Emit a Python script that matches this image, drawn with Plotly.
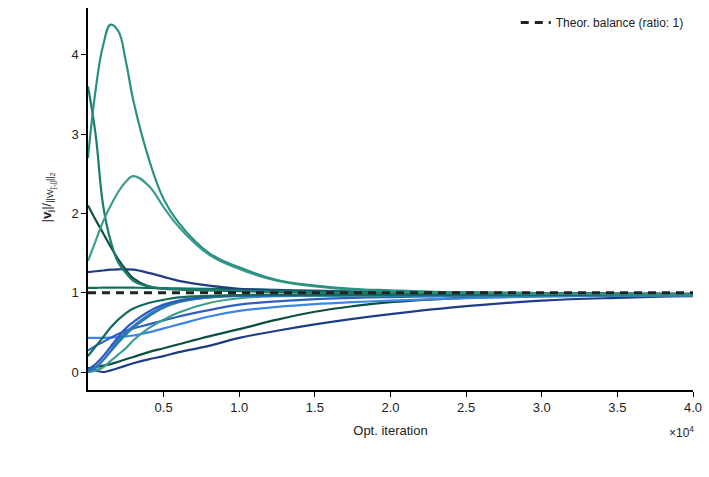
import plotly.graph_objects as go

# iterations (in units of 1e4 shown on axis)
iters = [0, 500, 1000, 1500, 2000, 2500, 3000, 4000, 5000, 6000, 8000, 10000,
         12500, 15000, 17500, 20000, 25000, 30000, 35000, 40000]

peak_big = [2.7, 3.55, 4.12, 4.38, 4.3, 3.92, 3.42, 2.7, 2.18, 1.88, 1.5, 1.32,
            1.16, 1.09, 1.05, 1.03, 1.0, 0.99, 0.985, 0.98]
peak_small = [1.4, 1.65, 1.9, 2.1, 2.27, 2.4, 2.47, 2.35, 2.08, 1.83, 1.48, 1.3,
              1.15, 1.08, 1.04, 1.02, 1.0, 0.99, 0.98, 0.975]
decay_high = [3.6, 3.0, 2.1, 1.65, 1.38, 1.25, 1.15, 1.08, 1.055, 1.045, 1.035, 1.025,
              1.015, 1.01, 1.0, 0.995, 0.99, 0.985, 0.98, 0.975]
decay_mid = [2.1, 1.92, 1.75, 1.58, 1.42, 1.29, 1.18, 1.08, 1.05, 1.04, 1.03, 1.02,
             1.01, 1.005, 1.0, 0.995, 0.99, 0.985, 0.98, 0.975]
hump_navy = [1.26, 1.27, 1.28, 1.29, 1.295, 1.295, 1.29, 1.25, 1.2, 1.15, 1.09, 1.05,
             1.03, 1.02, 1.01, 1.005, 1.0, 0.995, 0.99, 0.985]
flat_teal = [1.06, 1.062, 1.063, 1.064, 1.064, 1.064, 1.063, 1.06, 1.057, 1.054, 1.05, 1.045,
             1.035, 1.025, 1.018, 1.012, 1.0, 0.995, 0.99, 0.985]
light_blue = [0.43, 0.43, 0.43, 0.435, 0.44, 0.45, 0.46, 0.5, 0.55, 0.6, 0.7, 0.77,
              0.82, 0.855, 0.88, 0.9, 0.93, 0.95, 0.96, 0.965]
mid_blue = [0.27, 0.33, 0.38, 0.43, 0.48, 0.52, 0.55, 0.6, 0.65, 0.7, 0.78, 0.85,
            0.89, 0.92, 0.935, 0.945, 0.955, 0.965, 0.97, 0.975]
fast_dteal = [0.2, 0.32, 0.44, 0.56, 0.66, 0.74, 0.8, 0.87, 0.91, 0.94, 0.96, 0.97,
              0.975, 0.975, 0.975, 0.975, 0.975, 0.975, 0.975, 0.975]
fast_blue = [0.03, 0.1, 0.2, 0.32, 0.44, 0.55, 0.63, 0.76, 0.85, 0.9, 0.95, 0.965,
             0.97, 0.972, 0.974, 0.975, 0.975, 0.975, 0.975, 0.975]
fast_teal = [0.02, 0.06, 0.15, 0.26, 0.37, 0.47, 0.56, 0.7, 0.81, 0.88, 0.94, 0.96,
             0.965, 0.968, 0.97, 0.97, 0.97, 0.97, 0.97, 0.97]
fast_blue2 = [0.0, 0.05, 0.15, 0.27, 0.4, 0.5, 0.58, 0.72, 0.83, 0.89, 0.94, 0.96,
              0.965, 0.968, 0.97, 0.97, 0.97, 0.97, 0.97, 0.97]
lag_lteal = [0.0, 0.02, 0.06, 0.14, 0.22, 0.3, 0.4, 0.55, 0.66, 0.75, 0.87, 0.93,
             0.955, 0.96, 0.962, 0.965, 0.965, 0.965, 0.965, 0.965]
slow_dgreen = [0.05, 0.06, 0.08, 0.1, 0.13, 0.16, 0.19, 0.25, 0.3, 0.35, 0.45, 0.54,
               0.66, 0.76, 0.83, 0.88, 0.935, 0.96, 0.97, 0.975]
slow_navy = [0.05, 0.02, 0.0, 0.02, 0.05, 0.08, 0.11, 0.16, 0.2, 0.25, 0.33, 0.43,
             0.52, 0.6, 0.67, 0.73, 0.83, 0.9, 0.935, 0.955]

series = [
    (slow_navy, "#1f3d85"),
    (slow_dgreen, "#0a4f42"),
    (light_blue, "#3d86e3"),
    (mid_blue, "#2f5fc0"),
    (lag_lteal, "#3a9e8e"),
    (fast_teal, "#1f8a76"),
    (fast_blue2, "#3370d4"),
    (fast_blue, "#2a5bb8"),
    (fast_dteal, "#126b5c"),
    (flat_teal, "#137060"),
    (hump_navy, "#1f3d85"),
    (decay_mid, "#0b4f43"),
    (decay_high, "#1a7d6c"),
    (peak_small, "#3d9d8f"),
    (peak_big, "#2a9080"),
]

tick_vals = [5000, 10000, 15000, 20000, 25000, 30000, 35000, 40000]
tick_text = ["0.5", "1.0", "1.5", "2.0", "2.5", "3.0", "3.5", "4.0"]
balance = [1.0, 1.0]
balance_x = [0, 40000]

fig = go.Figure()
for ys, col in series:
    fig.add_trace(go.Scatter(x=iters, y=ys, mode="lines", showlegend=False,
                             line=dict(color=col, width=2.2, shape="spline", smoothing=1.2)))
fig.add_trace(go.Scatter(x=balance_x, y=balance, mode="lines",
                         name="Theor. balance (ratio: 1)",
                         line=dict(color="#222222", width=3, dash="8px,6px")))

fig.update_layout(
    width=709, height=477,
    margin=dict(l=88, r=16, t=8, b=87),
    plot_bgcolor="white", paper_bgcolor="white",
    font=dict(family="Liberation Sans, Arial, sans-serif", size=13, color="#222"),
    legend=dict(x=0.993, y=1.0, xanchor="right", yanchor="top",
                bgcolor="rgba(0,0,0,0)", font=dict(size=12), itemwidth=30),
    xaxis=dict(range=[0, 40000], tickvals=tick_vals, ticktext=tick_text,
               showgrid=False, zeroline=False, showline=True, linecolor="black",
               linewidth=1.5, ticks="outside", ticklen=5, tickcolor="black",
               title=dict(text="Opt. iteration", standoff=12, font=dict(size=13))),
    yaxis=dict(range=[-0.227, 4.59], tickvals=[0, 1, 2, 3, 4],
               showgrid=False, zeroline=False, showline=True, linecolor="black",
               linewidth=1.5, ticks="outside", ticklen=5, tickcolor="black"),
)
fig.add_annotation(text="×10<sup>4</sup>", xref="paper", yref="paper",
                   x=(681 - 88) / 605, y=(390 - 422) / 382, yanchor="top",
                   xanchor="center", showarrow=False, font=dict(size=12))
fig.add_annotation(text="|<b>v</b><sub>j</sub>|/<sub>||W<sub>[:,j]</sub>||<sub>2</sub></sub>",
                   xref="paper", yref="paper", textangle=-90,
                   x=(36 - 88) / 605, y=(390 - 198) / 382, showarrow=False,
                   font=dict(size=13))
fig.write_html("out.html")
